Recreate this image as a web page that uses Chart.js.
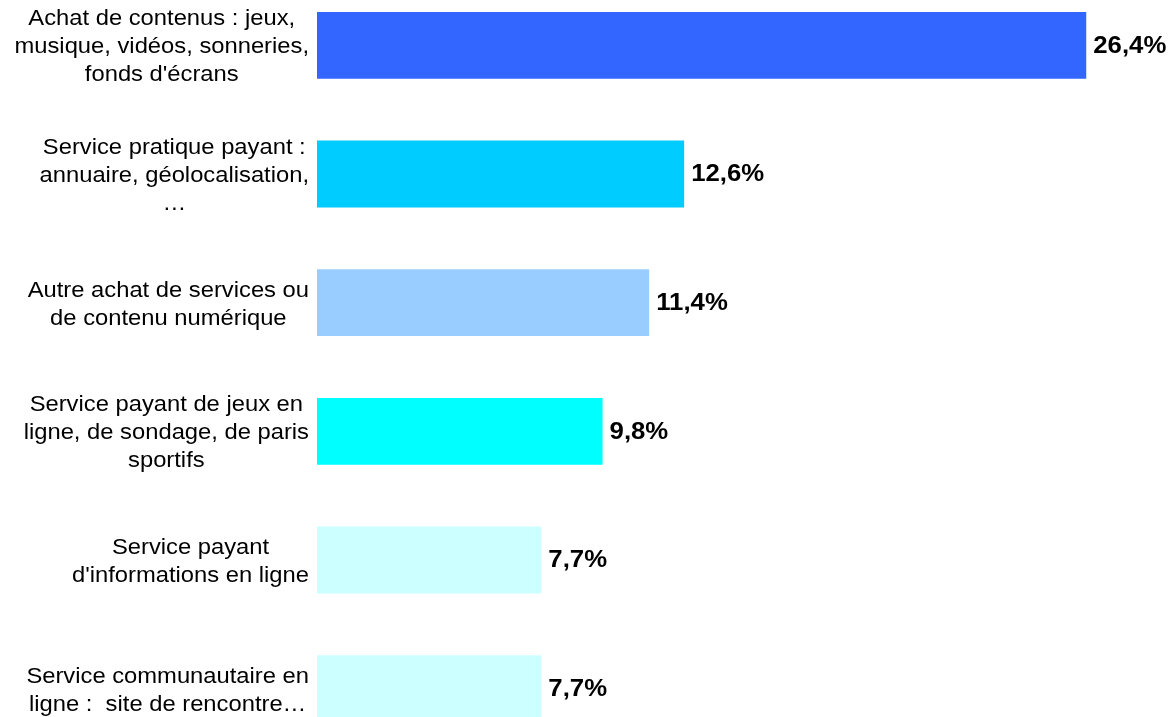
<!DOCTYPE html>
<html>
<head>
<meta charset="utf-8">
<script src="https://cdn.jsdelivr.net/npm/chart.js@4/dist/chart.umd.min.js"></script>
<style>
  html, body { margin: 0; padding: 0; background: #fff; overflow: hidden; }
  #wrap { position: absolute; left: 0; top: -19px; width: 1170px; height: 772px; }
</style>
</head>
<body>
<div id="wrap"><canvas id="myChart"></canvas></div>
<script>
// categories (one array of lines per label)
var categories = [
	["Achat de contenus : jeux,", "musique, vidéos, sonneries,", "fonds d'écrans"],
	["Service pratique payant :", "annuaire, géolocalisation,", "…"],
	["Autre achat de services ou", "de contenu numérique"],
	["Service payant de jeux en", "ligne, de sondage, de paris", "sportifs"],
	["Service payant", "d'informations en ligne"],
	["Service communautaire en", "ligne :  site de rencontre…"]
];
var values = [26.4, 12.6, 11.4, 9.8, 7.7, 7.7];
var valueLabels = ["26,4%", "12,6%", "11,4%", "9,8%", "7,7%", "7,7%"];
var barColors = ["#3366FF", "#00CCFF", "#99CCFF", "#00FFFF", "#CCFFFF", "#CCFFFF"];

// text in the original is a bit wider than Arial, stretch it horizontally
function drawStretched(ctx, text, x, y, sx) {
	ctx.save();
	ctx.translate(x, y);
	ctx.scale(sx, 1);
	ctx.fillText(text, 0, 0);
	ctx.restore();
}

// draws the left labels (block right-aligned, lines centered) and the values
var labelsPlugin = {
	id: 'labelsPlugin',
	afterDatasetsDraw: function(chart) {
		var ctx = chart.ctx;
		var yScale = chart.scales.y;
		var meta = chart.getDatasetMeta(0);
		ctx.save();
		ctx.fillStyle = '#000';
		ctx.textBaseline = 'middle';

		var sx = 1.08;
		ctx.font = '22px "Liberation Sans", Arial, sans-serif';
		for (var i = 0; i < categories.length; i++) {
			var lines = categories[i];
			var cy = yScale.getPixelForValue(i) + 2;
			var maxW = 0;
			for (var j = 0; j < lines.length; j++)
				maxW = Math.max(maxW, ctx.measureText(lines[j]).width * sx);
			var cx = 309 - maxW / 2;
			ctx.textAlign = 'center';
			for (var j = 0; j < lines.length; j++) {
				var ly = cy + (j - (lines.length - 1) / 2) * 28;
				drawStretched(ctx, lines[j], cx, ly, sx);
			}
		}

		ctx.font = 'bold 23px "Liberation Sans", Arial, sans-serif';
		ctx.textAlign = 'left';
		for (var i = 0; i < meta.data.length; i++) {
			var bar = meta.data[i];
			drawStretched(ctx, valueLabels[i], bar.x + 7, bar.y + 1, 1.12);
		}
		ctx.restore();
	}
};

var ctx = document.getElementById('myChart').getContext('2d');
var myBarChart = new Chart(ctx, {
	type: 'bar',
	data: {
		labels: categories,
		datasets: [{
			data: values,
			backgroundColor: barColors,
			borderWidth: 0,
			barPercentage: 0.52,
			categoryPercentage: 1
		}]
	},
	options: {
		indexAxis: 'y',
		responsive: true,
		maintainAspectRatio: false,
		animation: false,
		layout: { padding: { left: 317, right: 8, top: 0, bottom: 0 } },
		plugins: {
			legend: { display: false },
			tooltip: { enabled: false }
		},
		scales: {
			x: { display: false, min: 0, max: 29 },
			y: { display: false }
		}
	},
	plugins: [labelsPlugin]
});
</script>
</body>
</html>
